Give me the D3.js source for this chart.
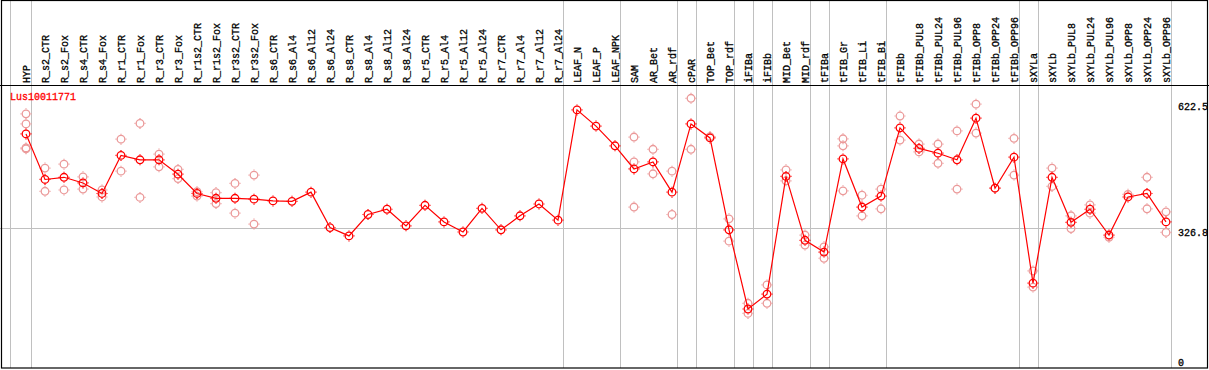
<!DOCTYPE html>
<html>
<head>
<meta charset="utf-8">
<title>Lus10011771</title>
<style>
  body { margin: 0; background: #fff; }
  text { font-family: "Liberation Mono", "DejaVu Sans Mono", monospace; font-size: 10px; stroke-width: 0.3px; }
</style>
</head>
<body>
<script src="https://cdn.jsdelivr.net/npm/d3@7"></script>
<script>
var categories = ["HYP","R_s2_CTR","R_s2_Fox","R_s4_CTR","R_s4_Fox","R_r1_CTR","R_r1_Fox","R_r3_CTR","R_r3_Fox",
  "R_r1s2_CTR","R_r1s2_Fox","R_r3s2_CTR","R_r3s2_Fox","R_s6_CTR","R_s6_Al4","R_s6_Al12","R_s6_Al24",
  "R_s8_CTR","R_s8_Al4","R_s8_Al12","R_s8_Al24","R_r5_CTR","R_r5_Al4","R_r5_Al12","R_r5_Al24",
  "R_r7_CTR","R_r7_Al4","R_r7_Al12","R_r7_Al24","LEAF_N","LEAF_P","LEAF_NPK","SAM","AR_Bet","AR_rdf",
  "cPAR","TOP_Bet","TOP_rdf","iFIBa","iFIBb","MID_Bet","MID_rdf","tFIBa","tFIB_Gr","tFIB_Li","tFIB_Bi",
  "tFIBb","tFIBb_PUL8","tFIBb_PUL24","tFIBb_PUL96","tFIBb_OPP8","tFIBb_OPP24","tFIBb_OPP96",
  "sXYLa","sXYLb","sXYLb_PUL8","sXYLb_PUL24","sXYLb_PUL96","sXYLb_OPP8","sXYLb_OPP24","sXYLb_OPP96"];

// mean expression per sample
var means = [541,437,442,429,405,492,482,482,449,
  405,394,394,392,388,387,408,327,
  308,357,369,331,378,340,317,371,
  322,354,381,344,596,559,514,461,477,408,
  564,532,322,141,175,444,298,271,484,374,399,
  555,508,497,482,577,417,488,
  200,442,339,369,310,397,405,340];

// individual replicates
var replicates = [[587,564,509,507],[463,410],[472,413],[443,415],[413,397],[529,456],[565,396],[495,466],[460,439],
  [409,399],[407,382],[428,360],[447,335],[],[],[],[],
  [],[],[],[],[],[],[],[],
  [],[],[],[],[],[],[],[534,477,374],[506,450],[456,357],
  [622.5,506],[535],[347,296],[154,131],[196,154],[459,434],[310,287],[283,257],[530,514,411],[401,354],[415,370],
  [582,527],[518,500],[518,474],[548,415],[609,543],[417],[531,447],
  [228,191],[463,421],[354,325],[379,360],[305],[403],[442,370],[363,316]];

// last sample of each group, a separator is drawn after it
var groupEnds = ["HYP","R_r7_Al24","LEAF_NPK","AR_rdf","cPAR","TOP_rdf","iFIBa","iFIBb","MID_rdf",
  "tFIBa","tFIB_Bi","tFIBb_OPP96","sXYLa","sXYLb_OPP96"];

var yTicks = [622.5, 326.8, 0];
var geneName = "Lus10011771";

var width = 1209, height = 370;
var svg = d3.select("body").append("svg")
  .attr("width", width).attr("height", height);

var x = d3.scaleBand().domain(categories).range([16.5, 16.5 + 19 * categories.length]);
var bw = x.bandwidth();
var cx = function(c) { return x(c) + bw / 2; };
var y = d3.scaleLinear().domain([0, 622.5]).range([370.7, 98.3]);

var grey = "#c0c0c0";

// separators
svg.append("line").attr("x1", 10.5).attr("x2", 10.5).attr("y1", 0).attr("y2", 368)
  .attr("stroke", grey);
svg.selectAll(".sep").data(groupEnds).enter().append("line")
  .attr("class", "sep")
  .attr("x1", function(d) { return Math.round(cx(d) + 4.5) + 0.5; })
  .attr("x2", function(d) { return Math.round(cx(d) + 4.5) + 0.5; })
  .attr("y1", 0).attr("y2", 368)
  .attr("stroke", grey);

// middle gridline
svg.append("line").attr("x1", 0).attr("x2", 1170)
  .attr("y1", Math.round(y(326.8)) + 0.5).attr("y2", Math.round(y(326.8)) + 0.5)
  .attr("stroke", grey);

// frame
svg.append("rect").attr("x", 1.5).attr("y", 0.5).attr("width", 1206).attr("height", 367.5)
  .attr("fill", "none").attr("stroke", "#000").attr("stroke-width", 1.2);
svg.append("line").attr("x1", 0).attr("x2", width).attr("y1", 85.5).attr("y2", 85.5)
  .attr("stroke", "#000").attr("stroke-width", 1.2);

// sample labels
svg.selectAll(".lab").data(categories).enter().append("text")
  .attr("class", "lab")
  .attr("stroke", "#000")
  .attr("transform", function(d) { return "translate(" + (cx(d) + 3.5) + ",83) rotate(-90)"; })
  .text(function(d) { return d; });

// y labels
svg.selectAll(".ylab").data(yTicks).enter().append("text")
  .attr("class", "ylab")
  .attr("stroke", "#000")
  .attr("x", 1178)
  .attr("y", function(d, i) { return i == 0 ? y(d) + 12 : (i == 1 ? y(d) + 8.5 : 366); })
  .text(function(d) { return d; });

svg.append("text").attr("x", 10).attr("y", 100).attr("fill", "red").attr("stroke", "red").text(geneName);

// marker with little ticks
function marker(g, color) {
  g.append("circle").attr("r", 3.8).attr("fill", "none").attr("stroke", color).attr("stroke-width", 1.3);
  g.append("path").attr("d", "M0,-5.5V-4.5M0,4.5V5.5M-5.5,0H-4.5M4.5,0H5.5")
    .attr("stroke", color).attr("stroke-width", 1.2);
}

// replicates
var reps = [];
categories.forEach(function(c, i) {
  replicates[i].forEach(function(v) { reps.push({c: c, v: v}); });
});
svg.selectAll(".rep").data(reps).enter().append("g")
  .attr("class", "rep")
  .attr("transform", function(d) { return "translate(" + cx(d.c) + "," + y(d.v) + ")"; })
  .each(function() { marker(d3.select(this), "#eb9a9a"); });

// mean line
var line = d3.line().x(function(d, i) { return cx(categories[i]); }).y(function(d) { return y(d); });
svg.append("path").datum(means).attr("d", line)
  .attr("fill", "none").attr("stroke", "red").attr("stroke-width", 1.2);

svg.selectAll(".mean").data(means).enter().append("g")
  .attr("class", "mean")
  .attr("transform", function(d, i) { return "translate(" + cx(categories[i]) + "," + y(d) + ")"; })
  .each(function() { marker(d3.select(this), "red"); });
</script>
</body>
</html>
